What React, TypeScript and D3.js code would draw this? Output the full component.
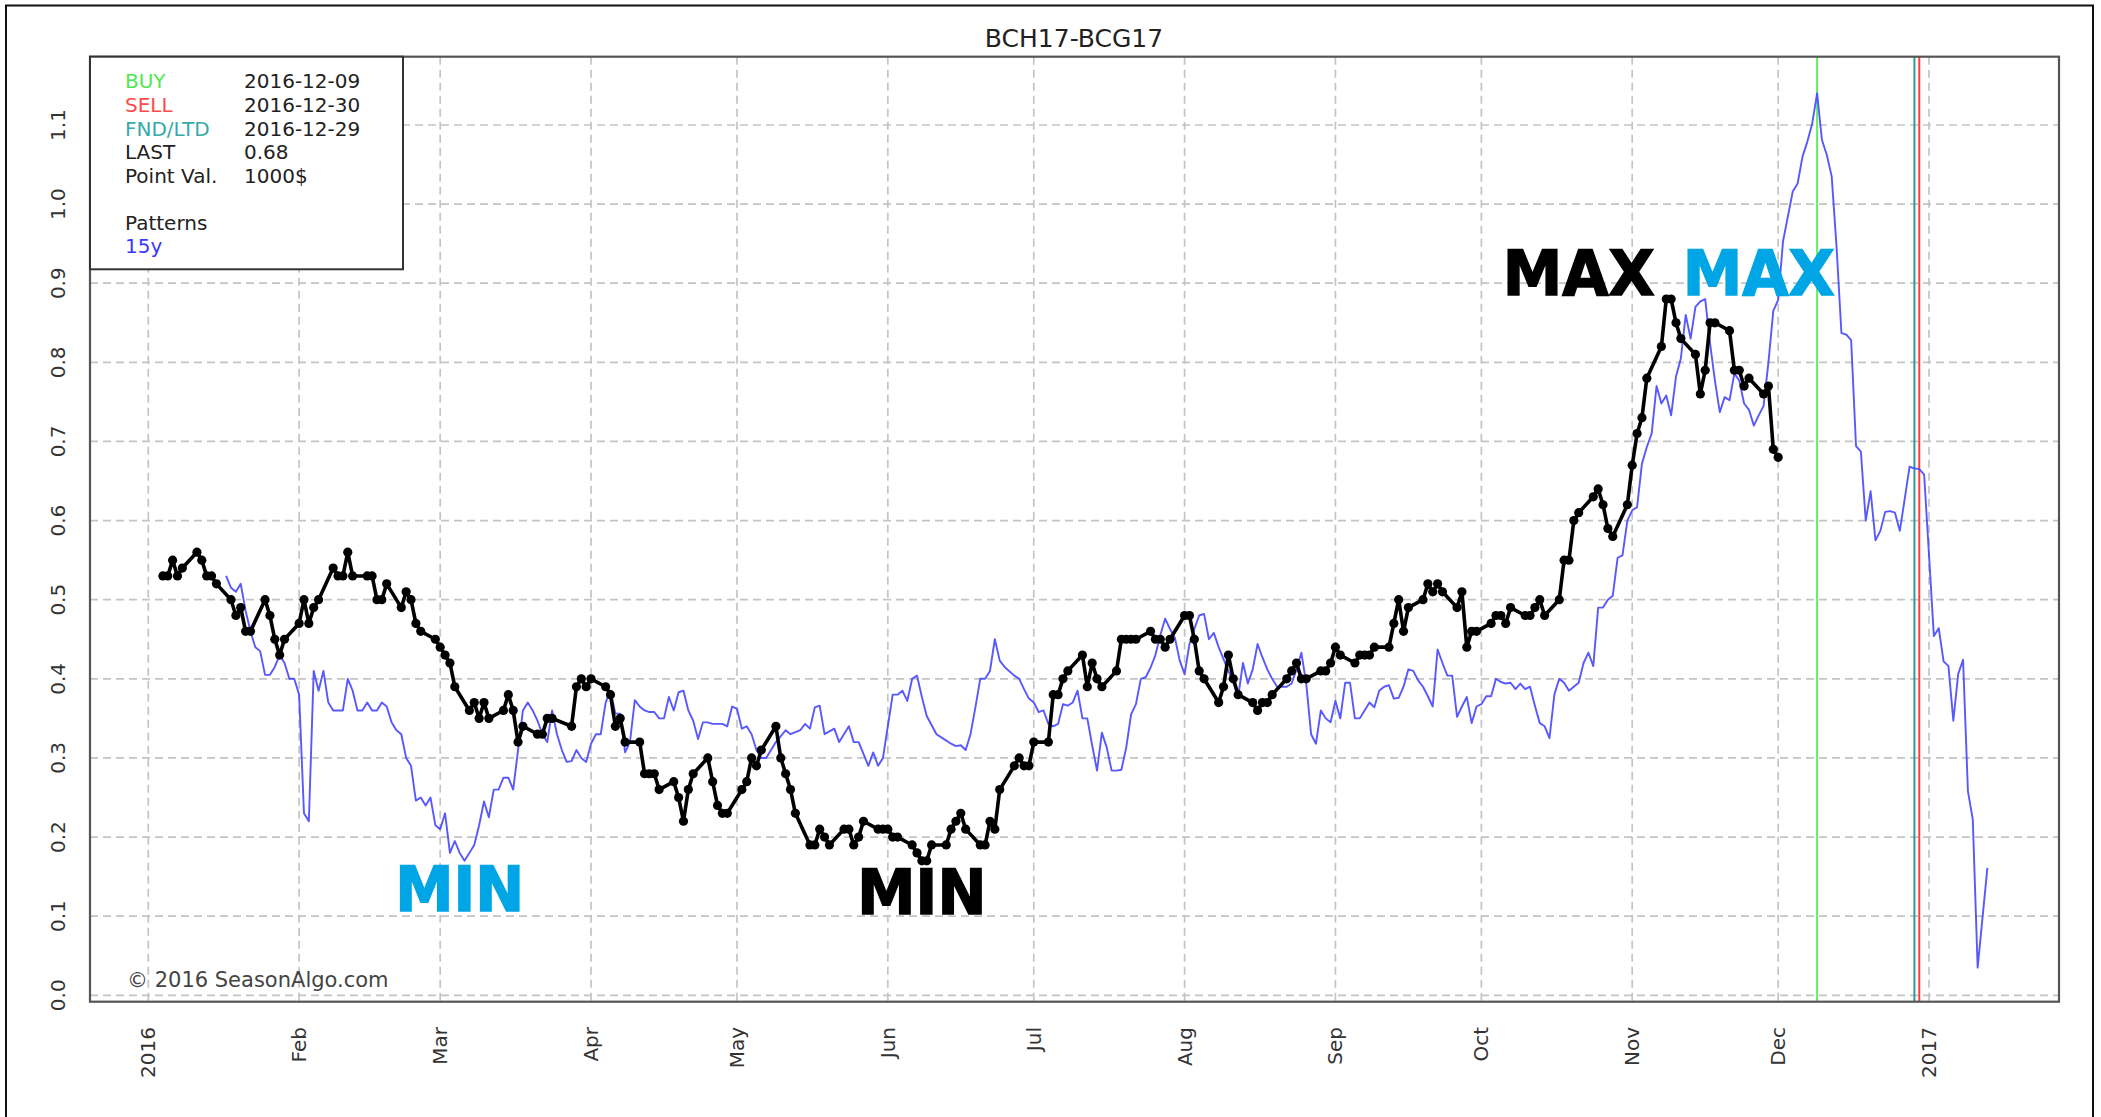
import React from "react";
import * as d3 from "d3";

const W = 2101;
const H = 1117;
const DAY = 86400000;
const FONT = "DejaVu Sans, Verdana, sans-serif";

const TITLE = "BCH17-BCG17";
const yTicks = [0.0, 0.1, 0.2, 0.3, 0.4, 0.5, 0.6, 0.7, 0.8, 0.9, 1.0, 1.1];
const monthTicks = [
  "2016-01-01", "2016-02-01", "2016-03-01", "2016-04-01", "2016-05-01", "2016-06-01",
  "2016-07-01", "2016-08-01", "2016-09-01", "2016-10-01", "2016-11-01", "2016-12-01", "2017-01-01",
];
const monthLabels = ["2016", "Feb", "Mar", "Apr", "May", "Jun", "Jul", "Aug", "Sep", "Oct", "Nov", "Dec", "2017"];

// legend
const legendRows = [
  { label: "BUY", value: "2016-12-09", color: "#4ee84e" },
  { label: "SELL", value: "2016-12-30", color: "#ff4a4a" },
  { label: "FND/LTD", value: "2016-12-29", color: "#36a9a9" },
  { label: "LAST", value: "0.68", color: "#222" },
  { label: "Point Val.", value: "1000$", color: "#222" },
];
const patternsLabel = "Patterns";
const patternYears = "15y";

// current contract: one value per trading day, starting 2016-01-04
const BLACK_START = "2016-01-04";
const HOLIDAYS = ["2016-03-25"];
const blackJan = [0.53, 0.53, 0.55, 0.53, 0.54, 0.56, 0.55, 0.53, 0.53, 0.52, 0.50, 0.48, 0.49, 0.46, 0.46, 0.50, 0.48, 0.45, 0.43, 0.45];
const blackFeb = [0.47, 0.50, 0.47, 0.49, 0.50, 0.54, 0.53, 0.53, 0.56, 0.53, 0.53, 0.53, 0.50, 0.50, 0.52, 0.49, 0.51, 0.50, 0.47, 0.46, 0.45];
const blackMar = [0.44, 0.43, 0.42, 0.39, 0.36, 0.37, 0.35, 0.37, 0.35, 0.36, 0.38, 0.36, 0.32, 0.34, 0.33, 0.33, 0.35, 0.35, 0.34, 0.39, 0.40, 0.39];
const blackApr = [0.40, 0.39, 0.38, 0.34, 0.35, 0.32, 0.32, 0.28, 0.28, 0.28, 0.26, 0.27, 0.25, 0.22, 0.26, 0.28, 0.30, 0.27, 0.24, 0.23, 0.23];
const blackMay = [0.26, 0.27, 0.30, 0.29, 0.31, 0.34, 0.30, 0.28, 0.26, 0.23, 0.19, 0.19, 0.21, 0.20, 0.19, 0.21, 0.21, 0.19, 0.20, 0.22, 0.21, 0.21];
const blackJun = [0.21, 0.20, 0.20, 0.19, 0.18, 0.17, 0.17, 0.19, 0.19, 0.21, 0.22, 0.23, 0.21, 0.19, 0.19, 0.22, 0.21, 0.26, 0.29, 0.30, 0.29, 0.29];
const blackJul = [0.32, 0.32, 0.38, 0.38, 0.40, 0.41, 0.43, 0.39, 0.42, 0.40, 0.39, 0.41, 0.45, 0.45, 0.45, 0.45, 0.46, 0.45, 0.45, 0.44, 0.45];
const blackAug = [0.48, 0.48, 0.45, 0.41, 0.40, 0.37, 0.39, 0.43, 0.40, 0.38, 0.37, 0.36, 0.37, 0.37, 0.38, 0.40, 0.41, 0.42, 0.40, 0.40, 0.41, 0.41, 0.42];
const blackSep = [0.44, 0.43, 0.42, 0.43, 0.43, 0.43, 0.44, 0.44, 0.47, 0.50, 0.46, 0.49, 0.50, 0.52, 0.51, 0.52, 0.51, 0.49, 0.51, 0.44, 0.46, 0.46];
const blackOct = [0.47, 0.48, 0.48, 0.47, 0.49, 0.48, 0.48, 0.49, 0.50, 0.48, 0.50, 0.55, 0.55, 0.60, 0.61, 0.63, 0.64, 0.62, 0.59, 0.58, 0.62];
const blackNov = [0.67, 0.71, 0.73, 0.78, 0.82, 0.88, 0.88, 0.85, 0.83, 0.81, 0.76, 0.79, 0.85, 0.85, 0.84, 0.79, 0.79, 0.77, 0.78, 0.76, 0.77, 0.69];
const blackDec = [0.68];

// 15y seasonal pattern
const blue15y: [string, number][] = [
  ["2016-01-17", 0.53], ["2016-01-18", 0.515], ["2016-01-19", 0.51], ["2016-01-20", 0.52], ["2016-01-21", 0.486],
  ["2016-01-22", 0.46], ["2016-01-23", 0.44], ["2016-01-24", 0.435], ["2016-01-25", 0.405], ["2016-01-26", 0.405],
  ["2016-01-27", 0.415], ["2016-01-28", 0.43], ["2016-01-29", 0.42], ["2016-01-30", 0.40], ["2016-01-31", 0.40],
  ["2016-02-01", 0.38], ["2016-02-02", 0.23], ["2016-02-03", 0.22], ["2016-02-04", 0.41], ["2016-02-05", 0.385],
  ["2016-02-06", 0.41], ["2016-02-07", 0.37], ["2016-02-08", 0.36], ["2016-02-09", 0.36], ["2016-02-10", 0.36],
  ["2016-02-11", 0.40], ["2016-02-12", 0.385], ["2016-02-13", 0.36], ["2016-02-14", 0.36], ["2016-02-15", 0.37],
  ["2016-02-16", 0.36], ["2016-02-17", 0.36], ["2016-02-18", 0.37], ["2016-02-19", 0.365], ["2016-02-20", 0.345],
  ["2016-02-21", 0.335], ["2016-02-22", 0.33], ["2016-02-23", 0.30], ["2016-02-24", 0.29], ["2016-02-25", 0.246],
  ["2016-02-26", 0.25], ["2016-02-27", 0.24], ["2016-02-28", 0.25], ["2016-02-29", 0.215], ["2016-03-01", 0.21],
  ["2016-03-02", 0.23], ["2016-03-03", 0.18], ["2016-03-04", 0.195], ["2016-03-05", 0.18], ["2016-03-06", 0.17],
  ["2016-03-07", 0.18], ["2016-03-08", 0.19], ["2016-03-09", 0.215], ["2016-03-10", 0.245], ["2016-03-11", 0.225],
  ["2016-03-12", 0.26], ["2016-03-13", 0.26], ["2016-03-14", 0.275], ["2016-03-15", 0.275], ["2016-03-16", 0.26],
  ["2016-03-17", 0.31], ["2016-03-18", 0.36], ["2016-03-19", 0.37], ["2016-03-20", 0.36], ["2016-03-21", 0.347],
  ["2016-03-22", 0.33], ["2016-03-23", 0.32], ["2016-03-24", 0.36], ["2016-03-25", 0.33], ["2016-03-26", 0.31],
  ["2016-03-27", 0.295], ["2016-03-28", 0.296], ["2016-03-29", 0.31], ["2016-03-30", 0.30], ["2016-03-31", 0.295],
  ["2016-04-01", 0.318], ["2016-04-02", 0.33], ["2016-04-03", 0.33], ["2016-04-04", 0.37], ["2016-04-05", 0.385],
  ["2016-04-06", 0.356], ["2016-04-07", 0.356], ["2016-04-08", 0.307], ["2016-04-09", 0.32], ["2016-04-10", 0.373],
  ["2016-04-11", 0.365], ["2016-04-12", 0.36], ["2016-04-13", 0.358], ["2016-04-14", 0.358], ["2016-04-15", 0.35],
  ["2016-04-16", 0.35], ["2016-04-17", 0.377], ["2016-04-18", 0.36], ["2016-04-19", 0.383], ["2016-04-20", 0.385],
  ["2016-04-21", 0.36], ["2016-04-22", 0.347], ["2016-04-23", 0.324], ["2016-04-24", 0.345], ["2016-04-25", 0.345],
  ["2016-04-26", 0.343], ["2016-04-27", 0.343], ["2016-04-28", 0.343], ["2016-04-29", 0.34], ["2016-04-30", 0.365],
  ["2016-05-01", 0.362], ["2016-05-02", 0.337], ["2016-05-03", 0.34], ["2016-05-04", 0.33], ["2016-05-05", 0.31],
  ["2016-05-06", 0.30], ["2016-05-07", 0.30], ["2016-05-08", 0.31], ["2016-05-09", 0.32], ["2016-05-11", 0.335],
  ["2016-05-12", 0.33], ["2016-05-14", 0.335], ["2016-05-15", 0.343], ["2016-05-16", 0.337], ["2016-05-17", 0.364],
  ["2016-05-18", 0.366], ["2016-05-19", 0.33], ["2016-05-21", 0.337], ["2016-05-22", 0.32], ["2016-05-24", 0.34],
  ["2016-05-25", 0.32], ["2016-05-26", 0.32], ["2016-05-27", 0.305], ["2016-05-28", 0.29], ["2016-05-29", 0.307],
  ["2016-05-30", 0.29], ["2016-05-31", 0.30], ["2016-06-02", 0.38], ["2016-06-03", 0.38], ["2016-06-04", 0.385],
  ["2016-06-05", 0.372], ["2016-06-06", 0.40], ["2016-06-07", 0.404], ["2016-06-08", 0.377], ["2016-06-09", 0.353],
  ["2016-06-11", 0.33], ["2016-06-12", 0.326], ["2016-06-14", 0.318], ["2016-06-15", 0.315], ["2016-06-16", 0.316],
  ["2016-06-17", 0.31], ["2016-06-18", 0.33], ["2016-06-19", 0.364], ["2016-06-20", 0.40], ["2016-06-21", 0.40],
  ["2016-06-22", 0.41], ["2016-06-23", 0.45], ["2016-06-24", 0.423], ["2016-06-25", 0.415], ["2016-06-27", 0.404],
  ["2016-06-28", 0.40], ["2016-06-29", 0.387], ["2016-06-30", 0.375], ["2016-07-01", 0.37], ["2016-07-02", 0.358],
  ["2016-07-03", 0.36], ["2016-07-04", 0.343], ["2016-07-05", 0.34], ["2016-07-06", 0.343], ["2016-07-07", 0.368],
  ["2016-07-08", 0.366], ["2016-07-09", 0.37], ["2016-07-10", 0.385], ["2016-07-11", 0.35], ["2016-07-12", 0.35],
  ["2016-07-13", 0.316], ["2016-07-14", 0.284], ["2016-07-15", 0.332], ["2016-07-16", 0.313], ["2016-07-17", 0.284],
  ["2016-07-18", 0.284], ["2016-07-19", 0.285], ["2016-07-20", 0.313], ["2016-07-21", 0.355], ["2016-07-22", 0.368],
  ["2016-07-23", 0.40], ["2016-07-24", 0.402], ["2016-07-25", 0.414], ["2016-07-26", 0.43], ["2016-07-27", 0.455],
  ["2016-07-28", 0.476], ["2016-07-29", 0.463], ["2016-07-30", 0.452], ["2016-07-31", 0.423], ["2016-08-01", 0.406],
  ["2016-08-02", 0.444], ["2016-08-03", 0.463], ["2016-08-04", 0.48], ["2016-08-05", 0.482], ["2016-08-06", 0.45],
  ["2016-08-07", 0.458], ["2016-08-08", 0.44], ["2016-08-09", 0.425], ["2016-08-10", 0.41], ["2016-08-11", 0.396],
  ["2016-08-12", 0.377], ["2016-08-13", 0.42], ["2016-08-14", 0.394], ["2016-08-15", 0.412], ["2016-08-16", 0.444],
  ["2016-08-17", 0.427], ["2016-08-18", 0.412], ["2016-08-19", 0.40], ["2016-08-20", 0.39], ["2016-08-21", 0.39],
  ["2016-08-22", 0.39], ["2016-08-23", 0.394], ["2016-08-24", 0.412], ["2016-08-25", 0.433], ["2016-08-26", 0.394],
  ["2016-08-27", 0.33], ["2016-08-28", 0.318], ["2016-08-29", 0.36], ["2016-08-30", 0.35], ["2016-08-31", 0.345],
  ["2016-09-01", 0.372], ["2016-09-02", 0.35], ["2016-09-03", 0.395], ["2016-09-04", 0.395], ["2016-09-05", 0.35],
  ["2016-09-06", 0.35], ["2016-09-07", 0.36], ["2016-09-08", 0.37], ["2016-09-09", 0.364], ["2016-09-10", 0.385],
  ["2016-09-11", 0.39], ["2016-09-12", 0.392], ["2016-09-13", 0.375], ["2016-09-14", 0.376], ["2016-09-15", 0.39],
  ["2016-09-16", 0.412], ["2016-09-17", 0.41], ["2016-09-18", 0.398], ["2016-09-19", 0.39], ["2016-09-20", 0.378],
  ["2016-09-21", 0.365], ["2016-09-22", 0.437], ["2016-09-23", 0.42], ["2016-09-24", 0.404], ["2016-09-25", 0.404],
  ["2016-09-26", 0.352], ["2016-09-27", 0.365], ["2016-09-28", 0.377], ["2016-09-29", 0.344], ["2016-09-30", 0.365],
  ["2016-10-01", 0.368], ["2016-10-02", 0.378], ["2016-10-03", 0.378], ["2016-10-04", 0.40], ["2016-10-05", 0.396],
  ["2016-10-06", 0.394], ["2016-10-07", 0.395], ["2016-10-08", 0.387], ["2016-10-09", 0.394], ["2016-10-10", 0.387],
  ["2016-10-11", 0.39], ["2016-10-12", 0.366], ["2016-10-13", 0.344], ["2016-10-14", 0.34], ["2016-10-15", 0.325],
  ["2016-10-16", 0.38], ["2016-10-17", 0.40], ["2016-10-18", 0.395], ["2016-10-19", 0.385], ["2016-10-20", 0.39],
  ["2016-10-21", 0.395], ["2016-10-22", 0.42], ["2016-10-23", 0.433], ["2016-10-24", 0.416], ["2016-10-25", 0.49],
  ["2016-10-26", 0.49], ["2016-10-27", 0.50], ["2016-10-28", 0.505], ["2016-10-29", 0.553], ["2016-10-30", 0.556],
  ["2016-10-31", 0.60], ["2016-11-01", 0.613], ["2016-11-02", 0.617], ["2016-11-03", 0.672], ["2016-11-04", 0.693],
  ["2016-11-05", 0.71], ["2016-11-06", 0.77], ["2016-11-07", 0.748], ["2016-11-08", 0.758], ["2016-11-09", 0.733],
  ["2016-11-10", 0.782], ["2016-11-11", 0.805], ["2016-11-12", 0.86], ["2016-11-13", 0.83], ["2016-11-14", 0.87],
  ["2016-11-15", 0.877], ["2016-11-16", 0.88], ["2016-11-17", 0.824], ["2016-11-18", 0.777], ["2016-11-19", 0.737],
  ["2016-11-20", 0.756], ["2016-11-21", 0.752], ["2016-11-22", 0.786], ["2016-11-23", 0.777], ["2016-11-24", 0.748],
  ["2016-11-25", 0.74], ["2016-11-26", 0.72], ["2016-11-27", 0.733], ["2016-11-28", 0.745], ["2016-11-29", 0.80],
  ["2016-11-30", 0.865], ["2016-12-01", 0.879], ["2016-12-02", 0.953], ["2016-12-04", 1.016], ["2016-12-05", 1.026],
  ["2016-12-06", 1.06], ["2016-12-07", 1.079], ["2016-12-08", 1.102], ["2016-12-09", 1.14], ["2016-12-10", 1.081],
  ["2016-12-11", 1.062], ["2016-12-12", 1.035], ["2016-12-13", 0.946], ["2016-12-14", 0.837], ["2016-12-15", 0.835],
  ["2016-12-16", 0.828], ["2016-12-17", 0.694], ["2016-12-18", 0.687], ["2016-12-19", 0.60], ["2016-12-20", 0.637],
  ["2016-12-21", 0.575], ["2016-12-22", 0.587], ["2016-12-23", 0.611], ["2016-12-24", 0.612], ["2016-12-25", 0.61],
  ["2016-12-26", 0.587], ["2016-12-27", 0.627], ["2016-12-28", 0.668], ["2016-12-29", 0.666], ["2016-12-30", 0.665],
  ["2016-12-31", 0.658], ["2017-01-01", 0.557], ["2017-01-02", 0.454], ["2017-01-03", 0.464], ["2017-01-04", 0.422],
  ["2017-01-05", 0.416], ["2017-01-06", 0.347], ["2017-01-07", 0.406], ["2017-01-08", 0.424], ["2017-01-09", 0.258],
  ["2017-01-10", 0.222], ["2017-01-11", 0.035], ["2017-01-13", 0.161],
];

// annotations (text, anchor date, baseline value, colour)
const annotations = [
  { text: "MIN", date: "2016-03-05", value: 0.107, color: "#00a5e6", width: 129 },
  { text: "MIN", date: "2016-06-08", value: 0.103, color: "#000000", width: 129 },
  { text: "MAX", date: "2016-10-21", value: 0.885, color: "#000000", width: 152 },
  { text: "MAX", date: "2016-11-27", value: 0.885, color: "#00a5e6", width: 152 },
];

const parse = d3.utcParse("%Y-%m-%d");
const P = (s: string) => parse(s) as Date;

function buildBlack(): [Date, number][] {
  const months = [blackJan, blackFeb, blackMar, blackApr, blackMay, blackJun, blackJul, blackAug, blackSep, blackOct, blackNov, blackDec];
  const start = P(BLACK_START);
  const hol = new Set(HOLIDAYS);
  const fmt = d3.utcFormat("%Y-%m-%d");
  const out: [Date, number][] = [];
  months.forEach((vals, m) => {
    const ms = new Date(Date.UTC(2016, m, 1));
    const me = new Date(Date.UTC(2016, m + 1, 1));
    const days = d3.utcDays(ms < start ? start : ms, me).filter(
      (d) => d.getUTCDay() !== 0 && d.getUTCDay() !== 6 && !hol.has(fmt(d))
    );
    vals.forEach((v, i) => {
      if (i < days.length) out.push([days[i], v]);
    });
  });
  return out;
}

export default function App() {
  const jan1 = Date.UTC(2016, 0, 1);
  const x = d3
    .scaleUtc()
    .domain([new Date(jan1 - 11.98 * DAY), new Date(jan1 + 392.72 * DAY)])
    .range([90, 2059]);
  const y = d3.scaleLinear().domain([-0.0081, 1.1863]).range([1001.7, 56.7]);

  const [L, R] = x.range();
  const [B, T] = y.range();

  const black = buildBlack();
  const blue = blue15y.map(([d, v]) => [P(d), v] as [Date, number]);
  const line = d3
    .line<[Date, number]>()
    .x((d) => x(d[0]))
    .y((d) => y(d[1]));

  const vLines = [
    { date: legendRows[0].value, color: "#5ef05e" },
    { date: legendRows[2].value, color: "#2f9a9a" },
    { date: legendRows[1].value, color: "#ff3c3c" },
  ];

  return (
    <svg
      width={W}
      height={H}
      viewBox={`0 0 ${W} ${H}`}
      style={{ position: "absolute", left: 0, top: 0, background: "#fff" }}
      fontFamily={FONT}
    >
      <rect x={0} y={0} width={W} height={H} fill="#fff" />
      {/* outer frame */}
      <rect x={6} y={5.5} width={2087} height={1200} fill="none" stroke="#111" strokeWidth={2} />

      {/* title */}
      <text x={1074} y={47.3} textAnchor="middle" fontSize={25} fill="#222">
        {TITLE}
      </text>

      {/* grid */}
      <g stroke="#c4c4c4" strokeWidth={1.7} strokeDasharray="8,5" fill="none">
        {yTicks.map((t) => (
          <line key={"h" + t} x1={L} x2={R} y1={y(t)} y2={y(t)} />
        ))}
        {monthTicks.map((m) => (
          <line key={"v" + m} x1={x(P(m))} x2={x(P(m))} y1={T} y2={B} />
        ))}
      </g>

      {/* y tick labels */}
      <g fontSize={20} fill="#333">
        {yTicks.map((t) => (
          <text
            key={"yl" + t}
            transform={`translate(58,${y(t)}) rotate(-90)`}
            textAnchor="middle"
            dominantBaseline="central"
          >
            {d3.format(".1f")(t)}
          </text>
        ))}
      </g>

      {/* x tick labels */}
      <g fontSize={20} fill="#333">
        {monthTicks.map((m, i) => (
          <text
            key={"xl" + m}
            transform={`translate(${x(P(m))},1027) rotate(-90)`}
            textAnchor="end"
            dominantBaseline="central"
          >
            {monthLabels[i]}
          </text>
        ))}
      </g>

      {/* trade date lines */}
      {vLines.map((v) => (
        <line
          key={"vl" + v.date + v.color}
          x1={x(P(v.date))}
          x2={x(P(v.date))}
          y1={T}
          y2={B}
          stroke={v.color}
          strokeWidth={2}
        />
      ))}

      {/* pattern */}
      <path d={line(blue) || ""} fill="none" stroke="#4646ff" strokeOpacity={0.9} strokeWidth={1.9} strokeLinejoin="round" />

      {/* current contract */}
      <path d={line(black) || ""} fill="none" stroke="#000" strokeWidth={3.6} strokeLinejoin="round" />
      <g fill="#000">
        {black.map((d, i) => (
          <circle key={"c" + i} cx={x(d[0])} cy={y(d[1])} r={4.6} />
        ))}
      </g>

      {/* copyright */}
      <text x={127} y={986.5} fontSize={21} fill="#444">
        © 2016 SeasonAlgo.com
      </text>

      {/* annotations */}
      {annotations.map((a, i) => (
        <text
          key={"an" + i}
          x={x(P(a.date))}
          y={y(a.value)}
          textAnchor="middle"
          fontFamily="DejaVu Sans, sans-serif"
          fontWeight="bold"
          fontSize={63}
          fill={a.color}
          stroke={a.color}
          strokeWidth={1.6}
          textLength={a.width}
          lengthAdjust="spacingAndGlyphs"
        >
          {a.text}
        </text>
      ))}

      {/* plot frame */}
      <rect x={L} y={T} width={R - L} height={B - T} fill="none" stroke="#555" strokeWidth={2.2} />

      {/* legend */}
      <rect x={L} y={T} width={313} height={212.6} fill="#fff" stroke="#333" strokeWidth={2} />
      <g fontSize={20}>
        {legendRows.map((r, i) => (
          <g key={"lg" + i}>
            <text x={125} y={88.3 + i * 23.6} fill={r.color}>
              {r.label}
            </text>
            <text x={244} y={88.3 + i * 23.6} fill="#222">
              {r.value}
            </text>
          </g>
        ))}
        <text x={125} y={230} fill="#222">
          {patternsLabel}
        </text>
        <text x={125} y={253.3} fill="#3a3aff">
          {patternYears}
        </text>
      </g>
    </svg>
  );
}
